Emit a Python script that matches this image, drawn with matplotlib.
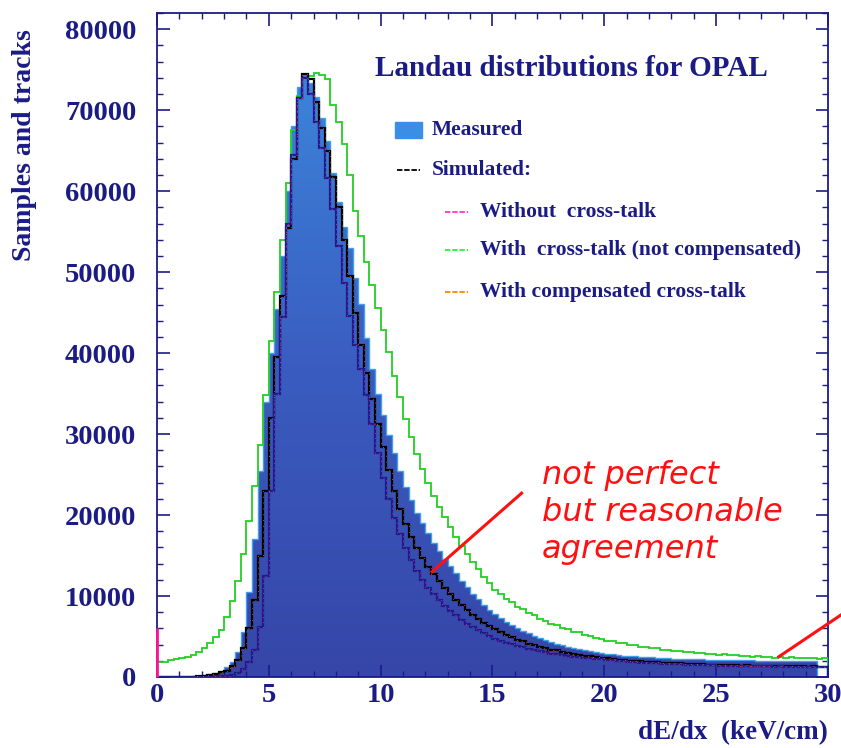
import numpy as np
import matplotlib
matplotlib.use("Agg")
import matplotlib.pyplot as plt
from matplotlib.colors import LinearSegmentedColormap
from matplotlib.ticker import MultipleLocator

# histogram bins: 0.25 keV/cm from 0 to 30
bin_width = 0.25
edges = np.arange(0, 30 + bin_width / 2, bin_width)

measured = [
    0, 0, 0, 0, 0, 40, 80, 150, 250, 380, 550, 800,
    1200, 1900, 3100, 5600, 10500, 17000, 25500, 34000,
    40000, 45500, 52000, 60000, 68000, 72800, 74500, 73300,
    71600, 69000, 66200, 62300, 58700, 55600, 53000, 49300,
    46100, 41900, 38000, 34900, 32300, 29900, 27700, 25400,
    23500, 21800, 20300, 19000, 17800, 16600, 15600, 14600,
    13700, 12800, 11900, 11100, 10300, 9600, 8900, 8300,
    7800, 7300, 6850, 6450, 6050, 5700, 5400, 5100,
    4800, 4550, 4300, 4100, 3900, 3720, 3560, 3420,
    3280, 3160, 3050, 2950, 2860, 2780, 2710, 2650,
    2590, 2540, 2490, 2450, 2410, 2370, 2340, 2310,
    2280, 2250, 2230, 2210, 2190, 2170, 2150, 2130,
    2110, 2100, 2080, 2070, 2060, 2050, 2040, 2030,
    2020, 2010, 2000, 1990, 1980, 1970, 1960, 1950,
    1940, 1930, 0, 0,
]

sim_not_compensated = [
    1850, 1900, 2050, 2200, 2350, 2500, 2700, 3100, 3600, 4200, 4900, 5800,
    7400, 9400, 11900, 15200, 19300, 23600, 28600, 34800,
    41500, 47500, 54000, 61000, 67500, 71800, 73900, 74200,
    74600, 74400, 73900, 70600, 68600, 65800, 62000, 57600,
    54500, 51200, 48400, 45600, 42900, 40100, 37200, 34600,
    31900, 29700, 27600, 25700, 24000, 22400, 21000, 19700,
    18500, 17300, 16200, 15200, 14200, 13300, 12400, 11600,
    10800, 10300, 9600, 9250, 8650, 8350, 7850, 7600,
    7150, 6950, 6600, 6450, 6100, 5950, 5600, 5500,
    5200, 5100, 4800, 4750, 4500, 4450, 4200, 4200,
    3950, 3950, 3730, 3720, 3530, 3550, 3350, 3370,
    3200, 3230, 3060, 3100, 2950, 2980, 2830, 2870,
    2750, 2780, 2660, 2700, 2590, 2620, 2520, 2560,
    2460, 2500, 2400, 2450, 2360, 2410, 2320, 2370,
    2290, 2330, 2250, 2310,
]

sim_compensated = [
    0, 0, 0, 0, 0, 20, 50, 100, 180, 280, 400, 560,
    800, 1300, 2100, 3600, 6000, 9500, 15000, 23000,
    32000, 39500, 47000, 55500, 64000, 71500, 74500, 73800,
    71000, 67800, 65000, 61800, 58000, 54000, 49500, 45000,
    41000, 37500, 34300, 31300, 28400, 25600, 23000, 20800,
    18900, 17300, 15900, 14700, 13600, 12700, 11800, 11000,
    10200, 9500, 8900, 8300, 7700, 7200, 6700, 6300,
    5900, 5550, 5200, 4950, 4600, 4400, 4120, 3960,
    3730, 3590, 3390, 3280, 3100, 3000, 2850, 2770,
    2640, 2570, 2450, 2400, 2290, 2250, 2150, 2120,
    2030, 2010, 1930, 1910, 1840, 1830, 1760, 1750,
    1690, 1690, 1630, 1630, 1570, 1580, 1530, 1540,
    1490, 1500, 1450, 1460, 1420, 1430, 1390, 1410,
    1370, 1390, 1350, 1370, 1330, 1350, 1310, 1330,
    1290, 1310, 1270, 1290,
]

sim_without = [
    0, 0, 0, 0, 0, 0, 0, 0, 20, 40, 70, 100,
    150, 300, 550, 1000, 1900, 3300, 6200, 12500,
    23000, 35000, 44500, 56000, 64500, 71500, 74000, 72000,
    68600, 65300, 61600, 57800, 53200, 48700, 44600, 41000,
    38000, 34800, 31300, 27700, 24600, 22000, 19600, 17600,
    15900, 14400, 13100, 12000, 11000, 10200, 9500, 8800,
    8200, 7600, 7100, 6600, 6200, 5800, 5400, 5050,
    4750, 4500, 4230, 4030, 3800, 3650, 3450, 3330,
    3150, 3040, 2890, 2810, 2680, 2620, 2500, 2450,
    2340, 2300, 2200, 2170, 2080, 2050, 1970, 1950,
    1870, 1860, 1790, 1780, 1710, 1710, 1650, 1650,
    1590, 1590, 1540, 1540, 1490, 1500, 1450, 1460,
    1410, 1420, 1380, 1390, 1350, 1370, 1320, 1340,
    1300, 1320, 1280, 1300, 1260, 1280, 1240, 1260,
    1220, 1240, 1200, 1220,
]
zero_bin_spike = 6000

note_lines = ["not perfect", "but reasonable", "agreement"]
arrow1_x, arrow1_y = [16.3, 12.3], [22700, 13000]
arrow2_x, arrow2_y = [27.8, 30.6], [2500, 7700]

navy = "#1b1b85"
serif = "Liberation Serif"

fig = plt.figure(figsize=(8.41, 7.48), dpi=100)
ax = fig.add_axes([157 / 841, 71 / 748, 671 / 841, 664 / 748])

# measured: filled histogram with a blue gradient
patch = ax.stairs(measured, edges, fill=True, color="none", zorder=1)
cmap = LinearSegmentedColormap.from_list("scan", ["#3646a8", "#3a5cc0", "#3c86dc"])
grad = np.linspace(0, 1, 256).reshape(-1, 1)
im = ax.imshow(grad, extent=[0, 30, 0, 76000], origin="lower", aspect="auto",
               cmap=cmap, zorder=1)
im.set_clip_path(patch)
ax.stairs(measured, edges, color="#3fa0ee", lw=1.0, zorder=2)

ax.stairs(sim_not_compensated, edges, color="#22d022", lw=1.3, zorder=3)
ax.stairs(sim_compensated, edges, color="black", lw=1.6, zorder=4)
ax.stairs(sim_compensated, edges, color="#ff6a00", lw=0.6, ls=(0, (1, 6)), zorder=5)
ax.stairs(sim_without, edges, color="#1c1c8c", lw=1.6, zorder=4)
ax.stairs(sim_without, edges, color="#e0208a", lw=0.7, ls=(0, (1, 4)), zorder=5)
ax.vlines(0, 0, zero_bin_spike, color="#ff1493", lw=2, zorder=6, clip_on=False)

ax.set_xlim(0, 30)
ax.set_ylim(0, 82000)
ax.xaxis.set_major_locator(MultipleLocator(5))
ax.xaxis.set_minor_locator(MultipleLocator(1))
ax.yaxis.set_major_locator(MultipleLocator(10000))
ax.yaxis.set_minor_locator(MultipleLocator(2000))
ax.tick_params(which="both", direction="in", top=True, right=True, color=navy,
               labelcolor=navy)
ax.tick_params(which="major", length=9, width=1.2)
ax.tick_params(which="minor", length=4.5, width=1)
ax.tick_params(axis="y", pad=15)
ax.tick_params(axis="x", pad=4)
for lab in ax.get_xticklabels() + ax.get_yticklabels():
    lab.set_fontfamily(serif)
    lab.set_fontweight("bold")
    lab.set_fontsize(20.5)
for s in ax.spines.values():
    s.set_color(navy)
    s.set_linewidth(1.3)

fig.text(25 / 841, 1 - 145 / 748, "Samples and tracks", rotation=90, ha="center",
         va="center", family=serif, weight="bold", size=20, color=navy)
fig.text(828 / 841, 1 - 733 / 748, "dE/dx  (keV/cm)", ha="right", va="center",
         family=serif, weight="bold", size=19.5, color=navy)

# legend drawn by hand
tr = ax.transAxes
ax.text(0.325, 0.917, "Landau distributions for OPAL", transform=tr, ha="left",
        va="center", family=serif, weight="bold", size=21, color=navy)
ax.add_patch(plt.Rectangle((0.355, 0.812), 0.04, 0.024, transform=tr,
                           color="#3a8ee6", zorder=6))
items = [
    (0.357, 0.392, 0.41, 0.7636, "black", "Simulated:"),
    (0.429, 0.4635, 0.481, 0.700, "#ff33cc", "Without  cross-talk"),
    (0.429, 0.4635, 0.481, 0.643, "#33ee33", "With  cross-talk (not compensated)"),
    (0.429, 0.4635, 0.481, 0.580, "#ff8800", "With compensated cross-talk"),
]
ax.text(0.41, 0.824, "Measured", transform=tr, ha="left", va="center",
        family=serif, weight="bold", size=15.5, color=navy)
for x0, x1, xt, y, c, label in items:
    ax.plot([x0, x1], [y, y], transform=tr, color=c, lw=1.3, ls=(0, (3, 1)))
    ax.text(xt, y, label, transform=tr, ha="left", va="center", family=serif,
            weight="bold", size=15.5, color=navy)

# handwritten remark
for i, line in enumerate(note_lines):
    ax.text(17.2, 24900 - i * 4600, line, ha="left", va="center", color="#ff1010",
            size=23, family="DejaVu Sans", style="italic")
ax.plot(arrow1_x, arrow1_y, color="#ff1010", lw=2.2, zorder=7)
ax.plot(arrow2_x, arrow2_y, color="#ff1010", lw=2.2, zorder=7, clip_on=False)

fig.savefig("out.png", dpi=100)
